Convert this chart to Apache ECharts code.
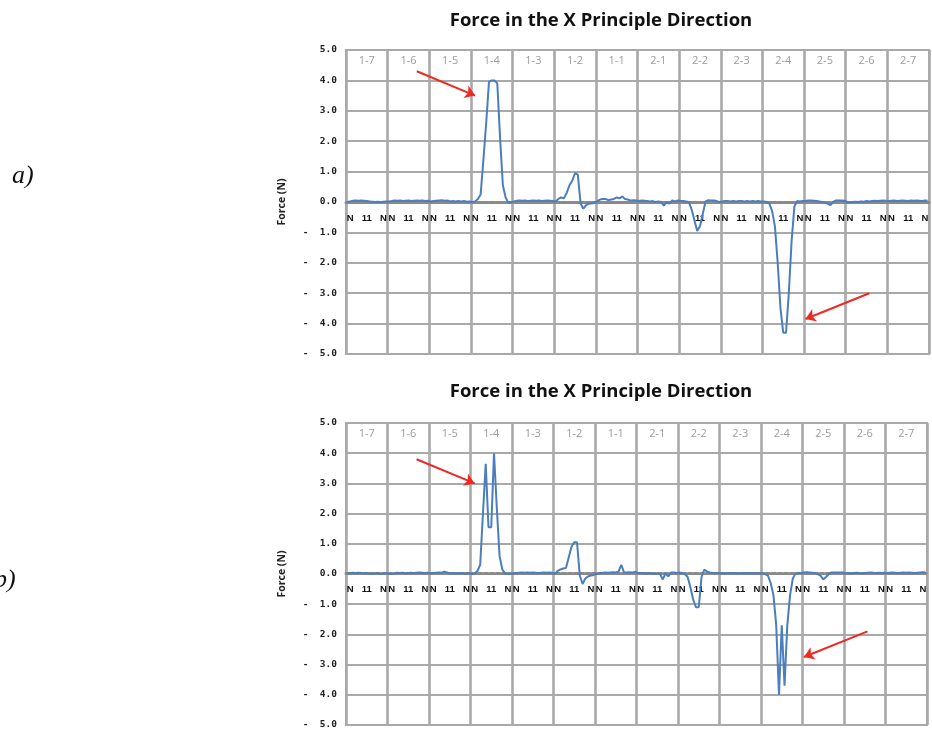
<!DOCTYPE html>
<html><head><meta charset="utf-8">
<script src="https://cdn.jsdelivr.net/npm/echarts@6/dist/echarts.min.js"></script>
<style>html,body{margin:0;padding:0;background:#fff}#c{width:932px;height:730px}</style>
</head><body><div id="c"></div>
<script>
// ---- data ----
const segments = ['1-7','1-6','1-5','1-4','1-3','1-2','1-1','2-1','2-2','2-3','2-4','2-5','2-6','2-7'];
const samplesPerSegment = 15;
const sampleTickLabels = ['', 'N', '', '', '', '', '', '11', '', '', '', '', '', 'N', ''];
const yMin = -5, yMax = 5, yStep = 1;
const titleText = 'Force in the X Principle Direction';
const yName = 'Force (N)';
const panelLabels = ['a)', 'b)'];

// panel a) force samples, 15 per segment
const forceA = [
  0.0, 0.02, 0.04, 0.05, 0.04, 0.05, 0.04, 0.03, 0.02, 0.01, 0.0, 0.01, 0.0, 0.01, 0.02,     // 1-7
  0.02, 0.03, 0.05, 0.04, 0.05, 0.03, 0.04, 0.05, 0.03, 0.04, 0.05, 0.04, 0.05, 0.03, 0.04,  // 1-6
  0.02, 0.03, 0.04, 0.05, 0.06, 0.04, 0.05, 0.02, 0.03, 0.02, 0.03, 0.02, 0.03, 0.01, 0.02,  // 1-5
  0.0, 0.02, 0.1, 0.25, 1.4, 2.6, 3.95, 4.0, 4.0, 3.9, 2.1, 0.55, 0.15, -0.03, 0.0,          // 1-4
  0.02, 0.04, 0.05, 0.04, 0.05, 0.03, 0.04, 0.05, 0.04, 0.05, 0.03, 0.04, 0.05, 0.04, 0.03,  // 1-3
  0.02, 0.1, 0.15, 0.12, 0.3, 0.55, 0.7, 0.95, 0.9, -0.05, -0.22, -0.1, -0.05, -0.05, -0.02, // 1-2
  0.03, 0.08, 0.1, 0.1, 0.06, 0.08, 0.1, 0.15, 0.12, 0.18, 0.1, 0.08, 0.05, 0.06, 0.05,      // 1-1
  0.03, 0.05, 0.04, 0.03, 0.02, 0.03, 0.0, 0.02, 0.0, -0.12, 0.0, -0.05, 0.05, 0.02, 0.05,   // 2-1
  0.03, 0.03, 0.02, 0.0, -0.25, -0.6, -0.95, -0.8, -0.4, 0.02, 0.06, 0.05, 0.05, 0.03, 0.0,  // 2-2
  0.02, 0.03, 0.03, 0.02, 0.03, 0.02, 0.03, 0.03, 0.02, 0.03, 0.02, 0.03, 0.02, 0.03, 0.02,  // 2-3
  0.02, 0.0, -0.05, -0.3, -0.8, -2.0, -3.5, -4.3, -4.3, -3.0, -1.3, -0.15, 0.03, 0.02, 0.03, // 2-4
  0.03, 0.05, 0.05, 0.04, 0.03, 0.02, 0.0, -0.02, -0.05, -0.1, 0.0, 0.05, 0.05, 0.05, 0.04,  // 2-5
  0.0, -0.01, 0.0, 0.01, 0.0, 0.02, 0.01, 0.03, 0.02, 0.03, 0.04, 0.03, 0.04, 0.05, 0.04,    // 2-6
  0.03, 0.04, 0.05, 0.03, 0.04, 0.05, 0.04, 0.03, 0.05, 0.04, 0.05, 0.04, 0.03, 0.05, 0.04   // 2-7
];

// panel b) force samples, 15 per segment
const forceB = [
  0.02, 0.03, 0.04, 0.03, 0.04, 0.03, 0.02, 0.03, 0.02, 0.01, 0.02, 0.03, 0.0, 0.02, 0.03,   // 1-7
  0.0, 0.01, 0.02, 0.04, 0.03, 0.04, 0.02, 0.03, 0.04, 0.03, 0.04, 0.05, 0.04, 0.03, 0.04,   // 1-6
  0.02, 0.03, 0.04, 0.05, 0.04, 0.08, 0.05, 0.02, 0.03, 0.02, 0.02, 0.03, 0.02, 0.02, 0.03,  // 1-5
  0.0, 0.02, 0.1, 0.3, 2.0, 3.65, 1.55, 1.55, 4.0, 2.2, 0.6, 0.15, 0.02, 0.0, 0.01,          // 1-4
  0.02, 0.03, 0.04, 0.05, 0.04, 0.05, 0.04, 0.05, 0.04, 0.03, 0.04, 0.05, 0.04, 0.05, 0.04,  // 1-3
  0.0, 0.1, 0.15, 0.18, 0.2, 0.55, 0.9, 1.05, 1.05, -0.05, -0.33, -0.15, -0.08, -0.05, -0.03,// 1-2
  0.0, 0.03, 0.03, 0.05, 0.04, 0.05, 0.06, 0.05, 0.08, 0.3, 0.05, 0.05, 0.06, 0.05, 0.07,    // 1-1
  0.04, 0.03, 0.03, 0.02, 0.03, 0.02, 0.0, 0.02, 0.0, -0.18, 0.02, -0.08, 0.05, 0.05, 0.03,  // 2-1
  0.05, 0.03, 0.0, -0.1, -0.45, -0.85, -1.1, -1.1, -0.1, 0.15, 0.08, 0.05, 0.03, 0.03, 0.03, // 2-2
  0.02, 0.03, 0.02, 0.03, 0.02, 0.03, 0.02, 0.02, 0.03, 0.02, 0.03, 0.02, 0.03, 0.02, 0.03,  // 2-3
  0.02, 0.0, -0.05, -0.3, -0.7, -1.7, -4.0, -1.7, -3.7, -1.7, -0.7, -0.15, 0.02, 0.03, 0.03, // 2-4
  0.05, 0.06, 0.05, 0.04, 0.03, 0.0, -0.05, -0.18, -0.1, 0.0, 0.05, 0.05, 0.05, 0.05, 0.05,  // 2-5
  0.02, 0.03, 0.02, 0.03, 0.04, 0.03, 0.02, 0.03, 0.04, 0.05, 0.04, 0.03, 0.04, 0.03, 0.04,  // 2-6
  0.03, 0.04, 0.05, 0.04, 0.03, 0.04, 0.05, 0.04, 0.05, 0.04, 0.03, 0.04, 0.05, 0.06, 0.05   // 2-7
];

// annotation arrows (data space: [sample index, force]) start -> end
const arrowsA = [[[25, 4.3], [46, 3.5]], [[188, -3.0], [165, -3.85]]];
const arrowsB = [[[25, 3.8], [46, 3.0]], [[188, -1.9], [165, -2.75]]];

// ---- build ----
const sampleIds = [];
for (let i = 0; i < segments.length * samplesPerSegment; i++) sampleIds.push(String(i));

const gridColor = '#a9a9a9';
const panels = [
  {grid: {left: 346, top: 50, width: 583, height: 304}, data: forceA, arrows: arrowsA, titleTop: 6, labelY: 163, labelX: 12},
  {grid: {left: 346, top: 423, width: 581, height: 303}, data: forceB, arrows: arrowsB, titleTop: 377, labelY: 567, labelX: -6}
];

const option = {
  backgroundColor: '#fff',
  animation: false,
  title: [], grid: [], xAxis: [], yAxis: [], series: [], graphic: []
};

panels.forEach((p, k) => {
  option.title.push({
    text: titleText, left: 596, top: p.titleTop, textAlign: 'center',
    textStyle: {fontFamily: 'Open Sans', fontWeight: 'bold', fontSize: 18.5, color: '#111'}
  });
  option.grid.push(Object.assign({show: true, borderColor: gridColor, borderWidth: 2, backgroundColor: 'transparent'}, p.grid));
  // sample axis drawn at the zero line (grid is symmetric about 0)
  option.xAxis.push({
    gridIndex: k, type: 'category', data: sampleIds, boundaryGap: true, position: 'bottom',
    offset: -p.grid.height * (0 - yMin) / (yMax - yMin),
    axisLine: {show: true, onZero: false, lineStyle: {color: '#8a8a8a', width: 3, type: [4, 2]}},
    axisTick: {show: false},
    axisLabel: {
      interval: 0, margin: 11, color: '#111', fontFamily: 'Liberation Sans', fontWeight: 'bold', fontSize: 9.5,
      formatter: (v) => sampleTickLabels[Number(v) % samplesPerSegment]
    },
    splitLine: {show: false}
  });
  option.xAxis.push({
    gridIndex: k, type: 'category', data: segments, boundaryGap: true, position: 'top',
    axisLine: {show: false, onZero: false}, axisTick: {show: false},
    axisLabel: {inside: true, margin: 5, color: '#9c9c9c', fontFamily: 'Open Sans', fontSize: 11, interval: 0},
    splitLine: {show: true, interval: 0, lineStyle: {color: gridColor, width: 2.6}}
  });
  option.yAxis.push({
    gridIndex: k, type: 'value', min: yMin, max: yMax, interval: yStep,
    axisLine: {show: false}, axisTick: {show: false},
    splitLine: {show: true, lineStyle: {color: gridColor, width: 2}},
    axisLabel: {
      margin: 9, color: '#222', fontFamily: 'DejaVu Sans Mono', fontWeight: 'bold', fontSize: 9.5,
      formatter: (v) => v < 0 ? '-  ' + (-v).toFixed(1) : v.toFixed(1)
    },
    name: yName, nameLocation: 'middle', nameGap: 58, nameRotate: 90,
    nameTextStyle: {fontFamily: 'Open Sans', fontWeight: 'bold', fontSize: 10.5, color: '#222'}
  });
  option.series.push({
    type: 'line', xAxisIndex: 2 * k, yAxisIndex: k, data: p.data,
    showSymbol: false, symbol: 'none', z: 3,
    lineStyle: {color: '#4a7ebf', width: 2},
    markLine: {
      silent: true, symbol: ['none', 'arrow'], symbolSize: 10,
      label: {show: false},
      lineStyle: {color: '#ee2a24', width: 2, type: 'solid'},
      data: p.arrows.map(a => [{coord: a[0]}, {coord: a[1]}])
    }
  });
  option.graphic.push({
    type: 'text', left: p.labelX, top: p.labelY,
    style: {text: panelLabels[k], font: 'italic 26px "Liberation Serif"', fill: '#111'}
  });
});

const chart = echarts.init(document.getElementById('c'), null, {renderer: 'canvas'});
chart.setOption(option);
</script></body></html>
